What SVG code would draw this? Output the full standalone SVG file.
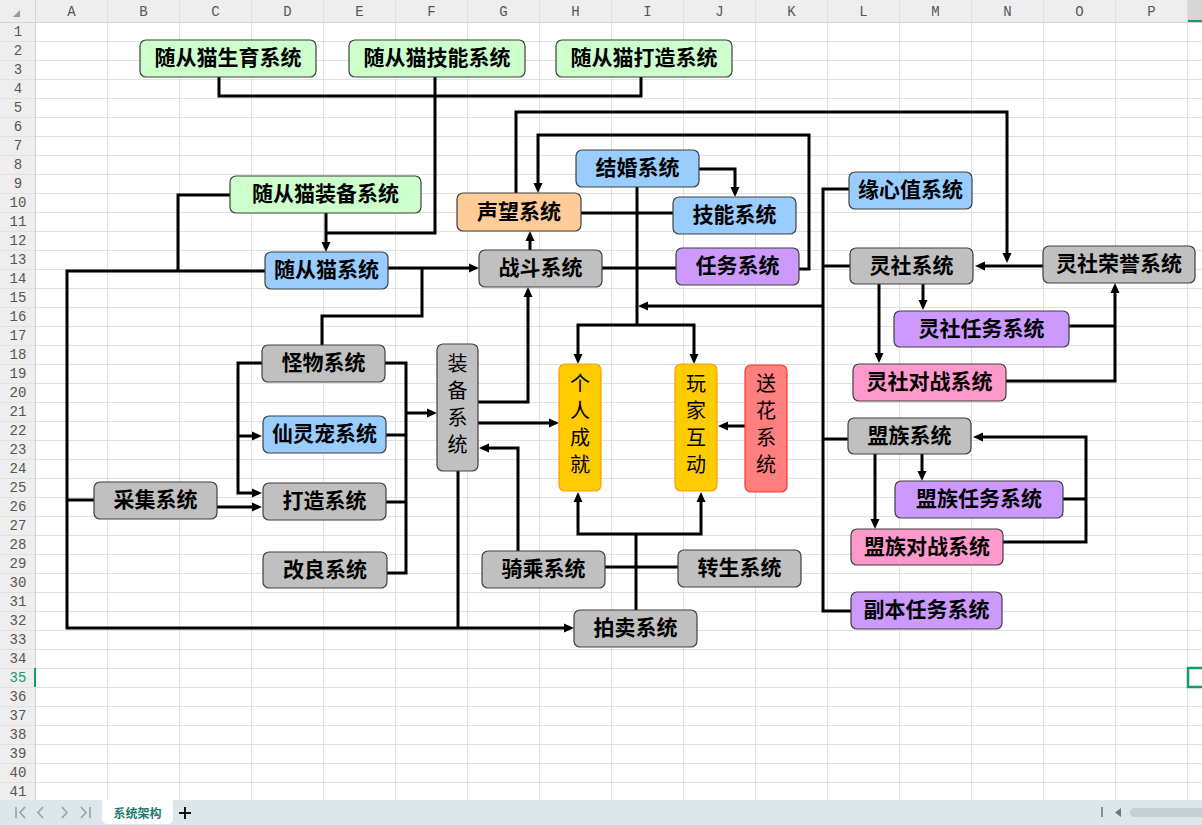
<svg xmlns="http://www.w3.org/2000/svg" width="1202" height="825" viewBox="0 0 1202 825">
<defs>
<style>
.bg{fill:#ffffff}
.grid{fill:none;stroke:#e1e1e1;stroke-width:1}
.hdr{fill:#eeeeee}
.hl{font-family:"Liberation Mono","DejaVu Sans Mono",monospace;font-size:14px;fill:#555;text-anchor:middle;dominant-baseline:central}
.n rect{stroke:#404040;stroke-width:1.2}
.t{font-family:"Noto Sans CJK SC","Noto Sans CJK JP",sans-serif;font-size:21px;font-weight:bold;fill:#000;text-anchor:middle;dominant-baseline:central;transform:translateY(-1.5px)}
.vt{font-family:"Noto Sans CJK SC","Noto Sans CJK JP",sans-serif;font-size:20px;font-weight:normal;fill:#000;text-anchor:middle;dominant-baseline:central}
.green{fill:#ccffcc}
.blue{fill:#99ccff}
.gray{fill:#c0c0c0}
.orange{fill:#ffcc99}
.purple{fill:#cc99ff}
.pink{fill:#ff99cc}
.n rect.yellow{fill:#ffcc00;stroke:#ff9900}
.n rect.red{fill:#ff7f7f;stroke:#ff3333}
.c{fill:none;stroke:#000;stroke-width:3;stroke-linejoin:miter}
.a{marker-end:url(#ah)}
</style>
<marker id="ah" viewBox="0 0 10 10" refX="6" refY="5" markerWidth="10" markerHeight="10" markerUnits="userSpaceOnUse" orient="auto">
<path d="M0,0.5 L10,5 L0,9.5 z" fill="#000"/>
</marker>
</defs>

<g id="sheet">
<rect class="bg" x="0" y="0" width="1202" height="825"/>
<rect class="hdr" x="0" y="0" width="1202" height="22"/>
<rect class="hdr" x="0" y="0" width="36" height="800"/>
<rect x="1188" y="0" width="14" height="22" fill="#d6d6d6"/>
<rect x="1188" y="20" width="14" height="2" fill="#169b62"/>
<path class="grid" d="M0,41.5H1202M0,60.5H1202M0,79.5H1202M0,98.5H1202M0,117.5H1202M0,136.5H1202M0,155.5H1202M0,174.5H1202M0,193.5H1202M0,212.5H1202M0,231.5H1202M0,250.5H1202M0,269.5H1202M0,288.5H1202M0,307.5H1202M0,326.5H1202M0,345.5H1202M0,364.5H1202M0,383.5H1202M0,402.5H1202M0,421.5H1202M0,440.5H1202M0,459.5H1202M0,478.5H1202M0,497.5H1202M0,516.5H1202M0,535.5H1202M0,554.5H1202M0,573.5H1202M0,592.5H1202M0,611.5H1202M0,630.5H1202M0,649.5H1202M0,668.5H1202M0,687.5H1202M0,706.5H1202M0,725.5H1202M0,744.5H1202M0,763.5H1202M0,782.5H1202"/>
<path class="grid" d="M107.5,0V800M179.5,0V800M251.5,0V800M323.5,0V800M395.5,0V800M467.5,0V800M539.5,0V800M611.5,0V800M683.5,0V800M755.5,0V800M827.5,0V800M899.5,0V800M971.5,0V800M1043.5,0V800M1115.5,0V800M1187.5,0V800"/>
<path d="M0,22.5H1202M35.5,0V800" fill="none" stroke="#d4d4d4" stroke-width="1"/>
<path d="M20,10 L20,17 L13,17 z" fill="#9a9a9a"/>
<rect x="34" y="668" width="2" height="19" fill="#169b62"/>
<g>
<text class="hl" x="71.5" y="12">A</text><text class="hl" x="143.5" y="12">B</text><text class="hl" x="215.5" y="12">C</text><text class="hl" x="287.5" y="12">D</text><text class="hl" x="359.5" y="12">E</text><text class="hl" x="431.5" y="12">F</text><text class="hl" x="503.5" y="12">G</text><text class="hl" x="575.5" y="12">H</text><text class="hl" x="647.5" y="12">I</text><text class="hl" x="719.5" y="12">J</text><text class="hl" x="791.5" y="12">K</text><text class="hl" x="863.5" y="12">L</text><text class="hl" x="935.5" y="12">M</text><text class="hl" x="1007.5" y="12">N</text><text class="hl" x="1079.5" y="12">O</text><text class="hl" x="1151.5" y="12">P</text>
</g>
<g>
<text class="hl" x="18" y="32">1</text><text class="hl" x="18" y="51">2</text><text class="hl" x="18" y="70">3</text><text class="hl" x="18" y="89">4</text><text class="hl" x="18" y="108">5</text><text class="hl" x="18" y="127">6</text><text class="hl" x="18" y="146">7</text><text class="hl" x="18" y="165">8</text><text class="hl" x="18" y="184">9</text><text class="hl" x="18" y="203">10</text><text class="hl" x="18" y="222">11</text><text class="hl" x="18" y="241">12</text><text class="hl" x="18" y="260">13</text><text class="hl" x="18" y="279">14</text><text class="hl" x="18" y="298">15</text><text class="hl" x="18" y="317">16</text><text class="hl" x="18" y="336">17</text><text class="hl" x="18" y="355">18</text><text class="hl" x="18" y="374">19</text><text class="hl" x="18" y="393">20</text><text class="hl" x="18" y="412">21</text><text class="hl" x="18" y="431">22</text><text class="hl" x="18" y="450">23</text><text class="hl" x="18" y="469">24</text><text class="hl" x="18" y="488">25</text><text class="hl" x="18" y="507">26</text><text class="hl" x="18" y="526">27</text><text class="hl" x="18" y="545">28</text><text class="hl" x="18" y="564">29</text><text class="hl" x="18" y="583">30</text><text class="hl" x="18" y="602">31</text><text class="hl" x="18" y="621">32</text><text class="hl" x="18" y="640">33</text><text class="hl" x="18" y="659">34</text><text class="hl" x="18" y="678" style="fill:#169b62">35</text><text class="hl" x="18" y="697">36</text><text class="hl" x="18" y="716">37</text><text class="hl" x="18" y="735">38</text><text class="hl" x="18" y="754">39</text><text class="hl" x="18" y="773">40</text><text class="hl" x="18" y="792">41</text>
</g>
<rect x="1188" y="668" width="20" height="19" fill="none" stroke="#169b62" stroke-width="2.5"/>
</g>

<g id="connectors">
<path class="c" d="M219,77V96H641V77"/>
<path class="c" d="M435,77V233H326"/>
<path class="c a" d="M326,213V248"/>
<path class="c" d="M230,195H178V271"/>
<path class="c a" d="M265,271H67V628H570"/>
<path class="c a" d="M388,268H475"/>
<path class="c" d="M422,268V316H322V345"/>
<path class="c a" d="M530,250V235"/>
<path class="c" d="M602,268H676"/>
<path class="c" d="M581,213H673"/>
<path class="c a" d="M699,169H735V193"/>
<path class="c a" d="M516,193V112H1007V259"/>
<path class="c a" d="M799,269H809V135H538V189"/>
<path class="c" d="M637,187V325"/>
<path class="c a" d="M637,325H578V360"/>
<path class="c a" d="M637,325H694V360"/>
<path class="c a" d="M823,306H642"/>
<path class="c" d="M849,189H823V611H851"/>
<path class="c" d="M823,266H850"/>
<path class="c" d="M823,439H848"/>
<path class="c a" d="M1043,266H979"/>
<path class="c a" d="M923,284V306"/>
<path class="c a" d="M879,284V359"/>
<path class="c" d="M1069,326H1115"/>
<path class="c a" d="M1006,381H1115V287"/>
<path class="c a" d="M922,454V477"/>
<path class="c a" d="M875,454V525"/>
<path class="c" d="M1063,499H1086"/>
<path class="c a" d="M1003,542H1086V437H977"/>
<path class="c a" d="M262,363H238V493H258"/>
<path class="c a" d="M238,436H258"/>
<path class="c a" d="M217,507H258"/>
<path class="c" d="M94,500H67"/>
<path class="c" d="M385,363H406V573H387"/>
<path class="c" d="M386,435H406"/>
<path class="c" d="M386,502H406"/>
<path class="c a" d="M406,413H433"/>
<path class="c a" d="M478,402H528V291"/>
<path class="c a" d="M478,423H555"/>
<path class="c a" d="M518,551V448H483"/>
<path class="c" d="M458,471V628"/>
<path class="c a" d="M745,426H722"/>
<path class="c" d="M636,610V534"/>
<path class="c a" d="M636,534H578V496"/>
<path class="c a" d="M636,534H701V496"/>
<path class="c" d="M605,567H678"/>
</g>

<g id="n1" class="n"><rect class="green" x="140" y="40" width="176" height="37" rx="6"/><text class="t" x="228" y="57.5">随从猫生育系统</text></g>
<g id="n2" class="n"><rect class="green" x="349" y="40" width="176" height="37" rx="6"/><text class="t" x="437" y="57.5">随从猫技能系统</text></g>
<g id="n3" class="n"><rect class="green" x="556" y="40" width="176" height="37" rx="6"/><text class="t" x="644" y="57.5">随从猫打造系统</text></g>
<g id="n4" class="n"><rect class="green" x="230" y="176" width="191" height="37" rx="6"/><text class="t" x="325.5" y="193.5">随从猫装备系统</text></g>
<g id="n5" class="n"><rect class="blue" x="265" y="252" width="123" height="37" rx="6"/><text class="t" x="326.5" y="269.5">随从猫系统</text></g>
<g id="n6" class="n"><rect class="orange" x="457" y="193" width="124" height="38" rx="6"/><text class="t" x="519" y="211">声望系统</text></g>
<g id="n7" class="n"><rect class="blue" x="576" y="150" width="123" height="37" rx="6"/><text class="t" x="637.5" y="167.5">结婚系统</text></g>
<g id="n8" class="n"><rect class="blue" x="673" y="197" width="123" height="37" rx="6"/><text class="t" x="734.5" y="214.5">技能系统</text></g>
<g id="n9" class="n"><rect class="gray" x="479" y="250" width="123" height="37" rx="6"/><text class="t" x="540.5" y="267.5">战斗系统</text></g>
<g id="n10" class="n"><rect class="purple" x="676" y="248" width="123" height="37" rx="6"/><text class="t" x="737.5" y="265.5">任务系统</text></g>
<g id="n11" class="n"><rect class="blue" x="849" y="172" width="123" height="37" rx="6"/><text class="t" x="910.5" y="189.5">缘心值系统</text></g>
<g id="n12" class="n"><rect class="gray" x="850" y="248" width="123" height="36" rx="6"/><text class="t" x="911.5" y="265">灵社系统</text></g>
<g id="n13" class="n"><rect class="gray" x="1043" y="246" width="152" height="37" rx="6"/><text class="t" x="1119" y="263.5">灵社荣誉系统</text></g>
<g id="n14" class="n"><rect class="purple" x="894" y="311" width="175" height="36" rx="6"/><text class="t" x="981.5" y="328">灵社任务系统</text></g>
<g id="n15" class="n"><rect class="pink" x="853" y="364" width="153" height="37" rx="6"/><text class="t" x="929.5" y="381.5">灵社对战系统</text></g>
<g id="n16" class="n"><rect class="gray" x="848" y="418" width="123" height="36" rx="6"/><text class="t" x="909.5" y="435">盟族系统</text></g>
<g id="n17" class="n"><rect class="purple" x="895" y="481" width="168" height="37" rx="6"/><text class="t" x="979" y="498.5">盟族任务系统</text></g>
<g id="n18" class="n"><rect class="pink" x="851" y="529" width="152" height="36" rx="6"/><text class="t" x="927" y="546">盟族对战系统</text></g>
<g id="n19" class="n"><rect class="purple" x="851" y="592" width="151" height="37" rx="6"/><text class="t" x="926.5" y="609.5">副本任务系统</text></g>
<g id="n20" class="n"><rect class="gray" x="262" y="345" width="123" height="37" rx="6"/><text class="t" x="323.5" y="362.5">怪物系统</text></g>
<g id="n21" class="n"><rect class="blue" x="263" y="416" width="123" height="37" rx="6"/><text class="t" x="324.5" y="433.5">仙灵宠系统</text></g>
<g id="n22" class="n"><rect class="gray" x="263" y="483" width="123" height="37" rx="6"/><text class="t" x="324.5" y="500.5">打造系统</text></g>
<g id="n23" class="n"><rect class="gray" x="263" y="552" width="124" height="36" rx="6"/><text class="t" x="325" y="569">改良系统</text></g>
<g id="n24" class="n"><rect class="gray" x="94" y="482" width="123" height="37" rx="6"/><text class="t" x="155.5" y="499.5">采集系统</text></g>
<g id="n25" class="n"><rect class="gray" x="437" y="344" width="41" height="127" rx="6"/><text class="vt" x="457.5" y="362">装</text><text class="vt" x="457.5" y="389">备</text><text class="vt" x="457.5" y="416">系</text><text class="vt" x="457.5" y="443">统</text></g>
<g id="n26" class="n"><rect class="yellow" x="559" y="364" width="42" height="127" rx="6"/><text class="vt" x="580" y="382">个</text><text class="vt" x="580" y="409">人</text><text class="vt" x="580" y="436">成</text><text class="vt" x="580" y="463">就</text></g>
<g id="n27" class="n"><rect class="yellow" x="675" y="364" width="42" height="127" rx="6"/><text class="vt" x="696" y="382">玩</text><text class="vt" x="696" y="409">家</text><text class="vt" x="696" y="436">互</text><text class="vt" x="696" y="463">动</text></g>
<g id="n28" class="n"><rect class="red" x="745" y="365" width="42" height="127" rx="6"/><text class="vt" x="766" y="382">送</text><text class="vt" x="766" y="409">花</text><text class="vt" x="766" y="436">系</text><text class="vt" x="766" y="463">统</text></g>
<g id="n29" class="n"><rect class="gray" x="482" y="551" width="123" height="37" rx="6"/><text class="t" x="543.5" y="568.5">骑乘系统</text></g>
<g id="n30" class="n"><rect class="gray" x="678" y="550" width="123" height="37" rx="6"/><text class="t" x="739.5" y="567.5">转生系统</text></g>
<g id="n31" class="n"><rect class="gray" x="574" y="610" width="123" height="37" rx="6"/><text class="t" x="635.5" y="627.5">拍卖系统</text></g>

<g id="tabbar">
<rect x="0" y="800" width="1202" height="25" fill="#dce7eb"/>
<path d="M102,800H173V818Q173,824 167,824H108Q102,824 102,818Z" fill="#ffffff"/>
<text x="137.5" y="812.5" font-family="'Noto Sans CJK SC',sans-serif" font-size="12" font-weight="bold" fill="#1e7b6c" text-anchor="middle" dominant-baseline="central">系统架构</text>
<path d="M185,807V819M179,813H191" stroke="#111" stroke-width="2" fill="none"/>
<g fill="none" stroke="#9aa0a3" stroke-width="1.6">
<path d="M16,807V818M25,807L20,812.5L25,818"/>
<path d="M43,807L38,812.5L43,818"/>
<path d="M62,807L67,812.5L62,818"/>
<path d="M81,807L86,812.5L81,818M90,807V818"/>
</g>
<rect x="1101" y="807" width="2" height="10" fill="#8a8f92"/>
<path d="M1121,808V817L1115,812.5Z" fill="#777"/>
<rect x="1130" y="808" width="80" height="9" rx="4.5" fill="#c6ced2"/>
</g>
</svg>
